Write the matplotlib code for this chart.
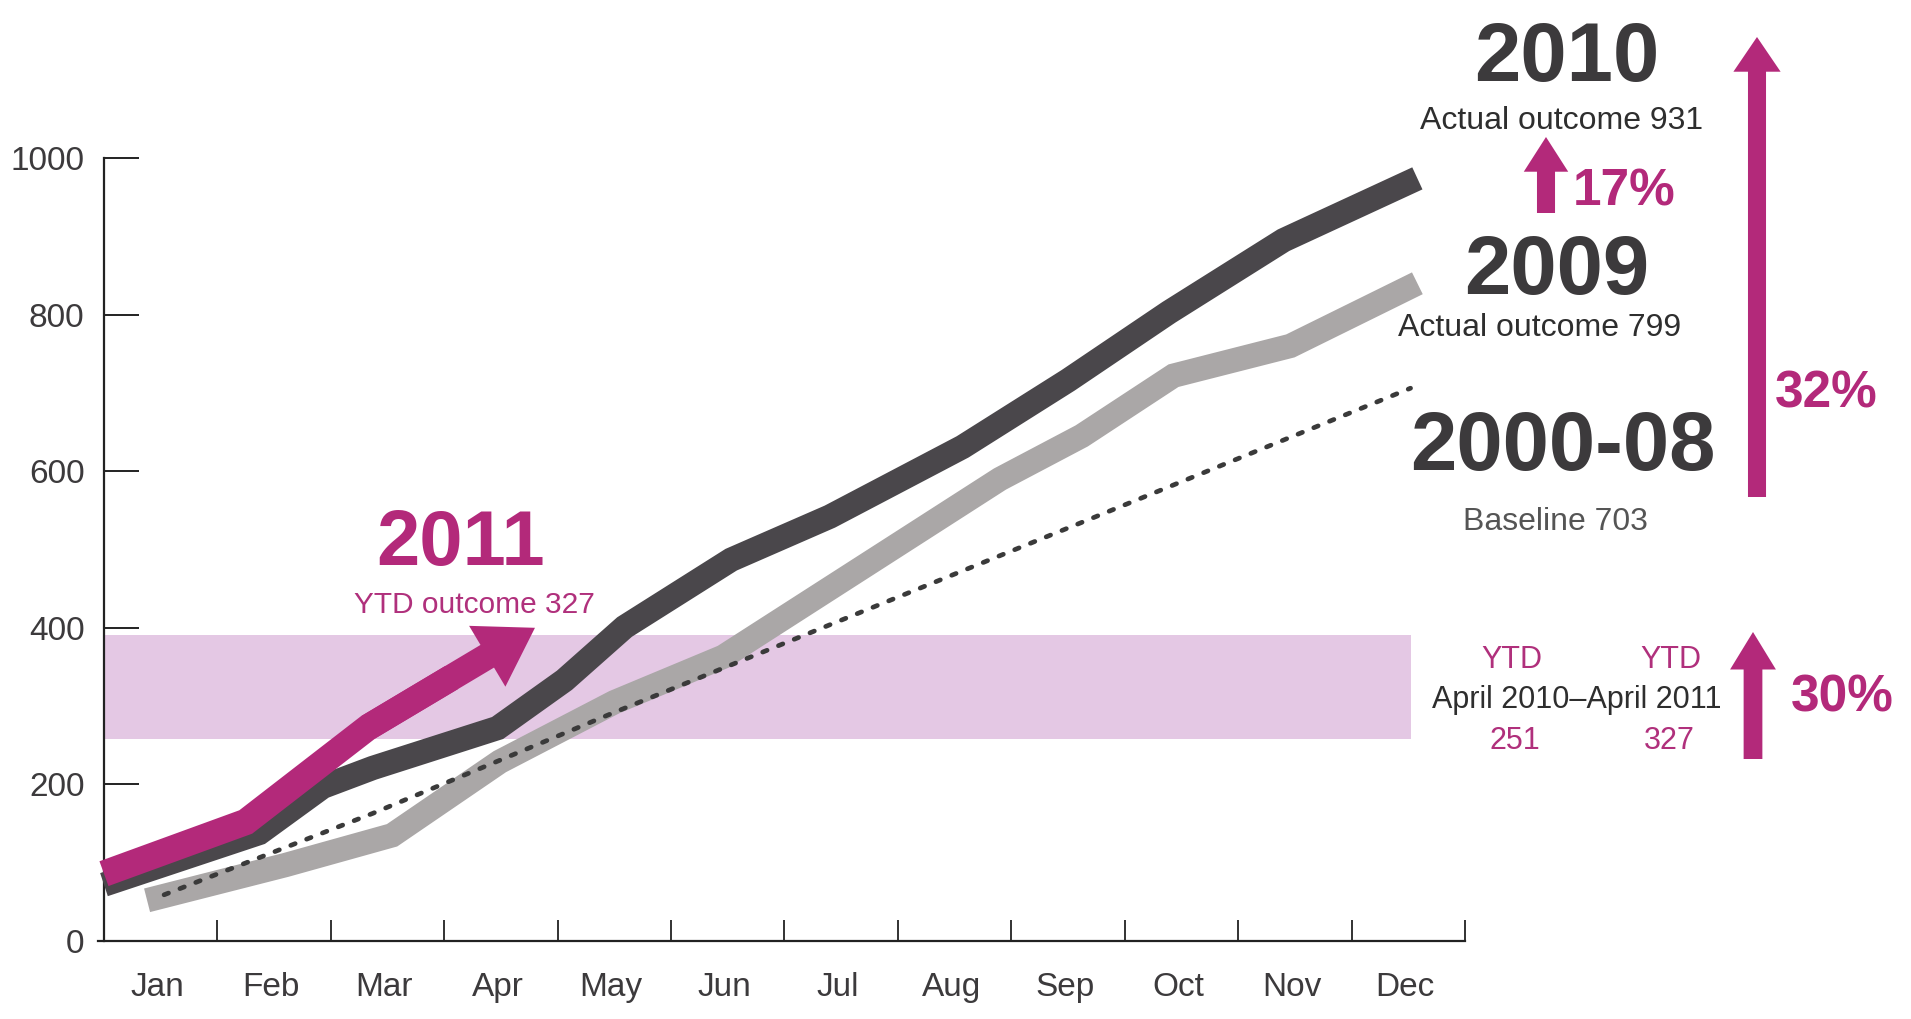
import matplotlib
matplotlib.use('Agg')
import matplotlib.pyplot as plt

# month labels
months = ['Jan', 'Feb', 'Mar', 'Apr', 'May', 'Jun',
          'Jul', 'Aug', 'Sep', 'Oct', 'Nov', 'Dec']
month_pos = [0.47 + i for i in range(12)]

# lines (x = months from the axis, y = count)
x_2010 = [0, 1.37, 1.93, 2.37, 3.47, 4.06, 4.59, 5.53, 6.4, 7.57, 8.5, 9.39, 10.4, 11.58]
y_2010 = [72, 138, 197, 221, 272, 333, 401, 487, 542, 631, 716, 803, 895, 974]

x_2009 = [0.38, 1.6, 2.54, 3.49, 4.5, 5.46, 7.9, 8.62, 9.43, 10.46, 11.58]
y_2009 = [52, 97, 135, 229, 305, 363, 590, 645, 722, 760, 840]

x_base = [0.53, 2.37, 4.5, 8.56, 11.52]
y_base = [59, 163, 292, 531, 706]

# 2011 ytd, last point is the arrow tip
x_2011 = [0, 1.25, 2.33, 3.80]
y_2011 = [86, 152, 273, 400]

# shaded YTD band
band_x = [0, 11.52]
band_lo = 258
band_hi = 391

PINK = '#b3297a'
PINK_TXT = '#b0307c'
BAND = '#e4c8e4'
DARK = '#4a474b'
GREY = '#aaa7a7'
TXT = '#3c3a3c'

plt.rcParams['font.family'] = ['Liberation Sans', 'DejaVu Sans']

W, H = 1911, 1019
fig = plt.figure(figsize=(W / 100, H / 100), dpi=100)
ax = fig.add_axes([98.3 / W, 78 / H, (1465 - 98.3) / W, 783 / H])

ax.fill_between(band_x, band_lo, band_hi, color=BAND, lw=0, zorder=1)
ax.plot(x_2009, y_2009, color=GREY, lw=17.5, solid_capstyle='butt',
        solid_joinstyle='miter', zorder=2, clip_on=False)
ax.plot(x_2010, y_2010, color=DARK, lw=17.5, solid_capstyle='butt',
        solid_joinstyle='miter', zorder=3, clip_on=False)
ax.plot(x_base, y_base, color='#3a3a3a', lw=3.4, dashes=(1.0, 2.6),
        dash_capstyle='round', zorder=4)

# body of the pink line runs halfway into the arrow so the joint is clean
mid_x = (x_2011[-2] + x_2011[-1]) / 2
mid_y = (y_2011[-2] + y_2011[-1]) / 2
ax.plot(x_2011[:-1] + [mid_x], y_2011[:-1] + [mid_y], color=PINK, lw=19,
        solid_capstyle='butt', solid_joinstyle='miter', zorder=5)
ax.annotate('', xy=(x_2011[-1], y_2011[-1]), xytext=(x_2011[-2], y_2011[-2]),
            arrowprops=dict(arrowstyle='simple,head_length=40,head_width=51,tail_width=19',
                            mutation_scale=1, shrinkA=0, shrinkB=0,
                            fc=PINK, ec='none', lw=0), zorder=5)

# axes look
ax.set_xlim(-0.05, 12)
ax.set_ylim(0, 1000)
for s in ['top', 'right']:
    ax.spines[s].set_visible(False)
ax.spines['left'].set_position(('data', 0))
for s in ['left', 'bottom']:
    ax.spines[s].set_linewidth(1.6)
    ax.spines[s].set_color('#222222')

ax.set_yticks(range(0, 1001, 200))
ax.tick_params(axis='y', direction='in', length=25, width=1.4, color='#222222',
               labelsize=24, labelcolor=TXT, pad=14)
ax.set_xticks(range(1, 13))
ax.set_xticklabels([])
ax.set_xticks(month_pos, minor=True)
ax.set_xticklabels(months, minor=True)
ax.tick_params(axis='x', which='major', direction='in', length=15, width=1.3, color='#222222')
ax.tick_params(axis='x', which='minor', length=0, labelsize=24, labelcolor=TXT, pad=22)


def ftext(px, py, s, size, color, bold=False):
    fig.text(px / W, 1 - py / H, s, fontsize=size, color=color, ha='center',
             va='baseline', fontweight='bold' if bold else 'normal')


# right-hand labels (baseline positions in pixels from top)
ftext(1567, 81, '2010', 60, TXT, True)
ftext(1562, 129, 'Actual outcome 931', 23, '#2e2e2e')
ftext(1624, 205, '17%', 37, PINK, True)
ftext(1557, 294, '2009', 60, TXT, True)
ftext(1540, 336, 'Actual outcome 799', 23, '#2e2e2e')
ftext(1563, 470, '2000-08', 60, TXT, True)
ftext(1555, 530, 'Baseline 703', 23, '#555555')
ftext(1826, 408, '32%', 37, PINK, True)
ftext(461, 565, '2011', 56, PINK, True)
ftext(474, 613, 'YTD outcome 327', 21.5, PINK_TXT)
ftext(1512, 668, 'YTD', 22, PINK_TXT)
ftext(1671, 668, 'YTD', 22, PINK_TXT)
ftext(1577, 708, 'April 2010\u2013April 2011', 22, '#2e2e2e')
ftext(1515, 749, '251', 22, PINK_TXT)
ftext(1669, 749, '327', 22, PINK_TXT)
ftext(1842, 712, '30%', 37, PINK, True)


def up_arrow(px, py_tail, py_tip, tail, hw, hl):
    ax.annotate('', xy=(px, H - py_tip), xytext=(px, H - py_tail),
                xycoords='figure pixels', textcoords='figure pixels',
                arrowprops=dict(arrowstyle='simple,head_length=%g,head_width=%g,tail_width=%g' % (hl, hw, tail),
                                mutation_scale=1, shrinkA=0, shrinkB=0,
                                fc=PINK, ec='none', lw=0))


up_arrow(1757, 497, 37, 13, 34, 25)
up_arrow(1546, 213, 137, 13, 32, 25)
up_arrow(1753, 759, 632, 13.5, 33, 27)

fig.savefig('out.png', dpi=100)
